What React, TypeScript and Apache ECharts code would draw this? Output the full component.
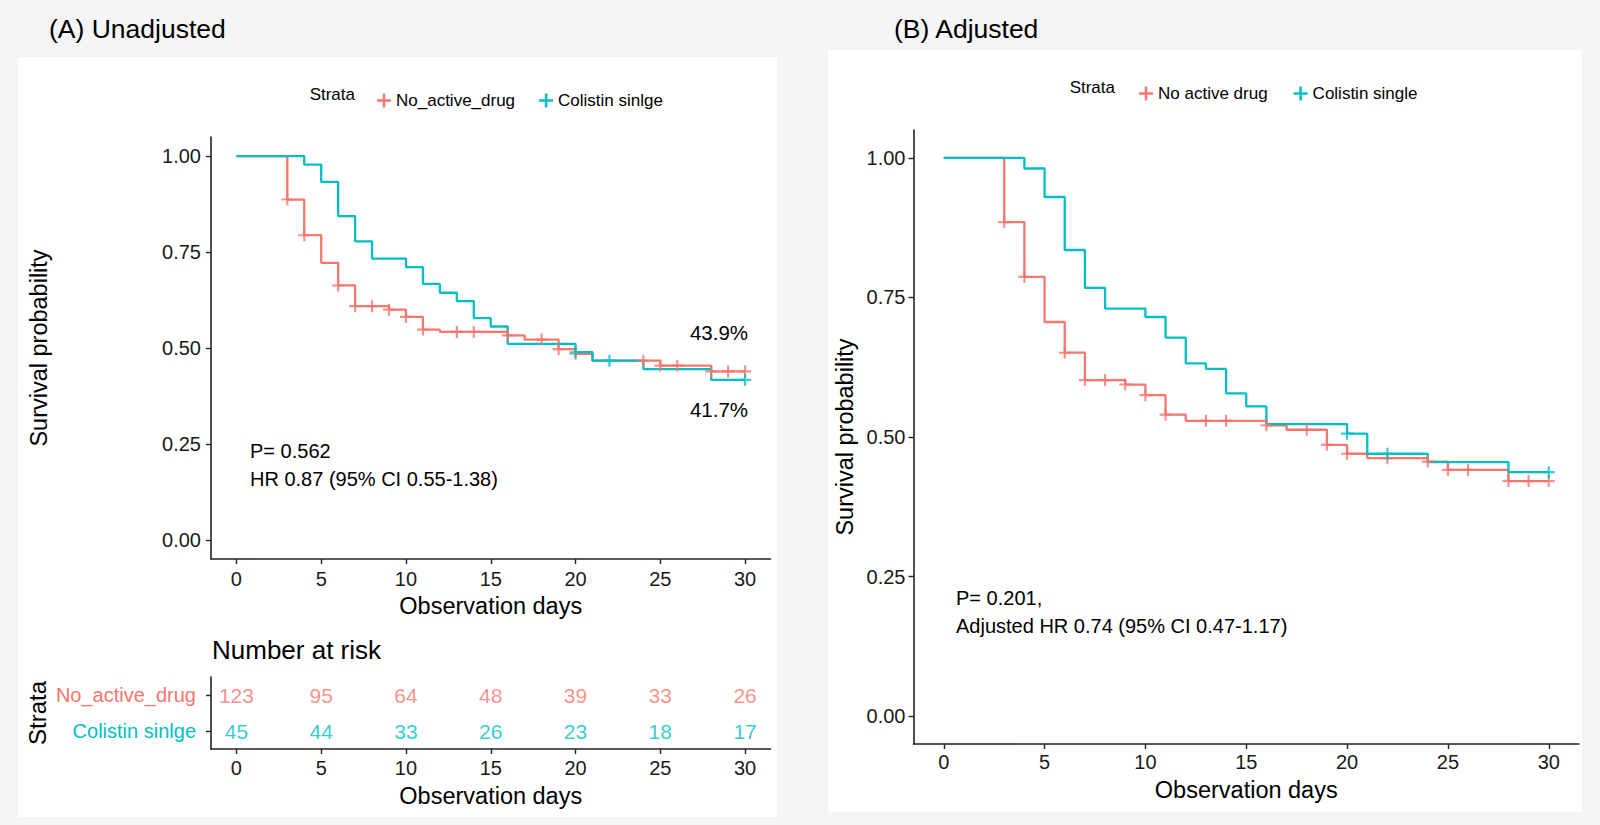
import React, { useEffect, useRef } from "react";
import * as echarts from "echarts";

const RED = "#F8766D";
const CYAN = "#00BFC4";
const FONT = "'Liberation Sans', Arial, Helvetica, sans-serif";

// ---------- Panel A (unadjusted) ----------
const daysA_noActive = [0, 3, 4, 5, 6, 7, 9, 10, 11, 12, 16, 17, 19, 20, 21, 25, 28, 30];
const survA_noActive = [1, 0.887, 0.794, 0.722, 0.663, 0.609, 0.6, 0.581, 0.548, 0.542, 0.533, 0.522, 0.497, 0.485, 0.467, 0.454, 0.439, 0.439];
const censorA_noActive = [3, 4, 6, 7, 8, 9, 10, 11, 13, 14, 16, 18, 19, 20, 24, 25, 26, 28, 29, 30];

const daysA_colistin = [0, 4, 5, 6, 7, 8, 10, 11, 12, 13, 14, 15, 16, 20, 21, 24, 28, 30];
const survA_colistin = [1, 0.978, 0.933, 0.844, 0.778, 0.733, 0.711, 0.667, 0.644, 0.622, 0.578, 0.556, 0.511, 0.489, 0.467, 0.445, 0.417, 0.417];
const censorA_colistin = [20, 22, 30];

// Number at risk (panel A)
const riskDays = [0, 5, 10, 15, 20, 25, 30];
const riskNoActive = [123, 95, 64, 48, 39, 33, 26];
const riskColistin = [45, 44, 33, 26, 23, 18, 17];
const strataA = ["Colistin sinlge", "No_active_drug"];

// ---------- Panel B (adjusted) ----------
const daysB_noActive = [0, 3, 4, 5, 6, 7, 9, 10, 11, 12, 16, 17, 19, 20, 21, 24, 25, 28, 30];
const survB_noActive = [1, 0.885, 0.787, 0.706, 0.651, 0.602, 0.594, 0.575, 0.54, 0.529, 0.521, 0.513, 0.486, 0.47, 0.462, 0.456, 0.441, 0.421, 0.421];
const censorB_noActive = [3, 4, 6, 7, 8, 9, 10, 11, 13, 14, 16, 18, 19, 20, 22, 24, 25, 26, 28, 29, 30];

const daysB_colistin = [0, 4, 5, 6, 7, 8, 10, 11, 12, 13, 14, 15, 16, 20, 21, 24, 28, 30];
const survB_colistin = [1, 0.981, 0.93, 0.835, 0.767, 0.73, 0.715, 0.678, 0.632, 0.622, 0.578, 0.555, 0.523, 0.506, 0.47, 0.455, 0.437, 0.437];
const censorB_colistin = [20, 22, 30];

const xTicks = [0, 5, 10, 15, 20, 25, 30];
const yTicks = [0, 0.25, 0.5, 0.75, 1];

const PLUS = "path://M4.1,0H5.9V4.1H10V5.9H5.9V10H4.1V5.9H0V4.1H4.1Z";

function survAt(days: number[], surv: number[], t: number) {
  let v = surv[0];
  for (let i = 0; i < days.length; i++) if (days[i] <= t) v = surv[i];
  return v;
}

function stepSeries(name: string, days: number[], surv: number[], color: string, xi: number) {
  return {
    name,
    type: "line",
    step: "end",
    xAxisIndex: xi,
    yAxisIndex: xi,
    data: days.map((d, i) => [d, surv[i]]),
    showSymbol: false,
    symbol: "none",
    lineStyle: { color, width: 2.3 },
    itemStyle: { color },
    z: 3,
  };
}

function censorSeries(name: string, days: number[], surv: number[], cens: number[], color: string, xi: number) {
  return {
    name,
    type: "scatter",
    xAxisIndex: xi,
    yAxisIndex: xi,
    data: cens.map((t) => [t, survAt(days, surv, t)]),
    symbol: PLUS,
    symbolSize: 12,
    itemStyle: { color },
    z: 4,
  };
}

const AXIS_COLOR = "#222";
const LABEL_COLOR = "#1a1a1a";

function xAxisCfg(gridIndex: number, margin: number, nameGap: number) {
  return {
    type: "value",
    gridIndex,
    min: -1.5,
    max: 31.5,
    name: "Observation days",
    nameLocation: "middle",
    nameGap,
    nameTextStyle: { fontSize: 23.5, color: "#000", fontFamily: FONT },
    axisLine: { show: true, onZero: false, lineStyle: { color: AXIS_COLOR, width: 1.6 } },
    axisTick: { show: true, length: 5, customValues: xTicks, lineStyle: { color: AXIS_COLOR, width: 1.4 } },
    axisLabel: { customValues: xTicks, margin, fontSize: 20, color: LABEL_COLOR, fontFamily: FONT },
    splitLine: { show: false },
  };
}

function yAxisCfg(gridIndex: number, nameGap: number, margin: number) {
  return {
    type: "value",
    gridIndex,
    min: -0.05,
    max: 1.05,
    name: "Survival probability",
    nameLocation: "middle",
    nameGap,
    nameTextStyle: { fontSize: 23.5, color: "#000", fontFamily: FONT },
    axisLine: { show: true, onZero: false, lineStyle: { color: AXIS_COLOR, width: 1.6 } },
    axisTick: { show: true, length: 5, customValues: yTicks, lineStyle: { color: AXIS_COLOR, width: 1.4 } },
    axisLabel: {
      customValues: yTicks,
      margin,
      fontSize: 20,
      color: LABEL_COLOR,
      fontFamily: FONT,
      formatter: (v: number) => v.toFixed(2),
    },
    splitLine: { show: false },
  };
}

function riskSeries(name: string, row: string, values: number[], color: string) {
  return {
    name,
    type: "scatter",
    xAxisIndex: 1,
    yAxisIndex: 1,
    data: riskDays.map((d, i) => [d, row, values[i]]),
    symbolSize: 1,
    itemStyle: { color: "rgba(0,0,0,0)" },
    label: {
      show: true,
      position: "inside",
      formatter: (p: any) => String(p.value[2]),
      color,
      fontSize: 21,
      fontFamily: FONT,
    },
  };
}

function txt(text: string, x: number, y: number, size: number, align = "left", extra: any = {}) {
  return {
    type: "text",
    x,
    y,
    z: 10,
    style: {
      text,
      x: 0,
      y: 0,
      fill: "#000",
      font: `${size}px ${FONT}`,
      textAlign: align,
      textVerticalAlign: "middle",
      ...extra,
    },
  };
}

export default function App() {
  const ref = useRef<HTMLDivElement>(null);

  useEffect(() => {
    if (!ref.current) return;
    const chart = echarts.init(ref.current, undefined, { renderer: "svg" });

    const option: any = {
      animation: false,
      backgroundColor: "#f5f5f5",
      textStyle: { fontFamily: FONT },
      grid: [
        { left: 211, top: 137, width: 559.5, height: 422 },
        { left: 211, top: 677, width: 559.5, height: 72 },
        { left: 913.5, top: 130, width: 665.5, height: 614 },
      ],
      xAxis: [xAxisCfg(0, 10, 35), xAxisCfg(1, 9, 35), xAxisCfg(2, 8, 34)],
      yAxis: [
        yAxisCfg(0, 160, 10),
        {
          type: "category",
          gridIndex: 1,
          data: strataA,
          name: "Strata",
          nameLocation: "middle",
          nameGap: 162,
          nameTextStyle: { fontSize: 24, color: "#000", fontFamily: FONT },
          axisLine: { show: true, onZero: false, lineStyle: { color: AXIS_COLOR, width: 1.6 } },
          axisTick: { show: true, length: 5, alignWithLabel: true, lineStyle: { color: AXIS_COLOR, width: 1.4 } },
          axisLabel: {
            margin: 15,
            fontSize: 20,
            fontFamily: FONT,
            formatter: (v: string) => (v === "No_active_drug" ? `{r|${v}}` : `{c|${v}}`),
            rich: {
              r: { color: RED, fontSize: 20, fontFamily: FONT },
              c: { color: CYAN, fontSize: 20, fontFamily: FONT },
            },
          },
          splitLine: { show: false },
        },
        yAxisCfg(2, 57, 8),
      ],
      legend: [
        {
          left: 372,
          top: 87,
          itemWidth: 14,
          itemHeight: 14,
          itemGap: 24,
          selectedMode: false,
          textStyle: { fontSize: 17, color: "#000", fontFamily: FONT },
          data: [
            { name: "No_active_drug", icon: PLUS, itemStyle: { color: RED } },
            { name: "Colistin sinlge", icon: PLUS, itemStyle: { color: CYAN } },
          ],
        },
        {
          left: 1134,
          top: 80,
          itemWidth: 14,
          itemHeight: 14,
          itemGap: 26,
          selectedMode: false,
          textStyle: { fontSize: 17, color: "#000", fontFamily: FONT },
          data: [
            { name: "No active drug", icon: PLUS, itemStyle: { color: RED } },
            { name: "Colistin single", icon: PLUS, itemStyle: { color: CYAN } },
          ],
        },
      ],
      graphic: [
        { type: "rect", z: -10, shape: { x: 18, y: 57, width: 759, height: 760 }, style: { fill: "#ffffff" } },
        { type: "rect", z: -10, shape: { x: 828, y: 50, width: 754, height: 762 }, style: { fill: "#ffffff" } },
        txt("(A) Unadjusted", 49, 29, 26.5),
        txt("(B) Adjusted", 894, 29, 26.5),
        txt("Strata", 355, 94, 17, "right"),
        txt("Strata", 1115, 87, 17, "right"),
        txt("43.9%", 719, 332, 20.5, "center"),
        txt("41.7%", 719, 409, 20.5, "center"),
        txt("P= 0.562", 250, 451, 20),
        txt("HR 0.87 (95% CI 0.55-1.38)", 250, 479, 20),
        txt("Number at risk", 212, 650, 26),
        txt("P= 0.201,", 956, 598, 20),
        txt("Adjusted HR 0.74 (95% CI 0.47-1.17)", 956, 626, 20),
      ],
      series: [
        stepSeries("No_active_drug", daysA_noActive, survA_noActive, RED, 0),
        stepSeries("Colistin sinlge", daysA_colistin, survA_colistin, CYAN, 0),
        censorSeries("No_active_drug censored", daysA_noActive, survA_noActive, censorA_noActive, RED, 0),
        censorSeries("Colistin sinlge censored", daysA_colistin, survA_colistin, censorA_colistin, CYAN, 0),
        riskSeries("risk No_active_drug", "No_active_drug", riskNoActive, RED),
        riskSeries("risk Colistin sinlge", "Colistin sinlge", riskColistin, CYAN),
        stepSeries("No active drug", daysB_noActive, survB_noActive, RED, 2),
        stepSeries("Colistin single", daysB_colistin, survB_colistin, CYAN, 2),
        censorSeries("No active drug censored", daysB_noActive, survB_noActive, censorB_noActive, RED, 2),
        censorSeries("Colistin single censored", daysB_colistin, survB_colistin, censorB_colistin, CYAN, 2),
      ],
    };

    chart.setOption(option);
    return () => chart.dispose();
  }, []);

  return (
    <div
      ref={ref}
      style={{ position: "fixed", left: 0, top: 0, width: 1600, height: 825 }}
    />
  );
}
